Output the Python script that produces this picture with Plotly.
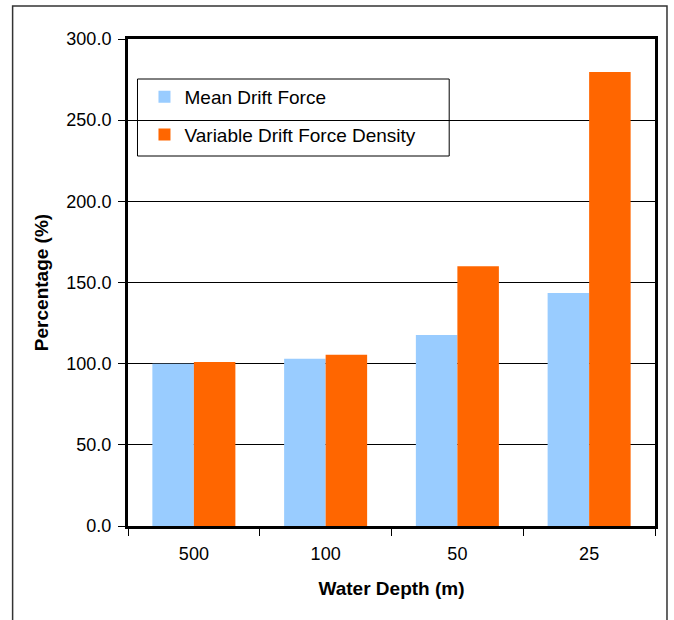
import plotly.graph_objects as go

categories = ["500", "100", "50", "25"]
mean_drift = [100.0, 103.0, 117.7, 143.6]
variable_drift = [101.0, 105.5, 160.0, 279.7]
y_ticks = [0, 50, 100, 150, 200, 250, 300]

W, H = 674, 620
L, R, T, B = 127.5, 19, 39, 94
pw, ph = W - L - R, H - T - B

def px_x(x):
    return (x - L) / pw

def px_y(y):
    return 1 - (y - T) / ph

fig = go.Figure()
fig.add_trace(go.Bar(x=categories, y=mean_drift, name="Mean Drift Force",
                     marker=dict(color="#99CCFF", line=dict(width=0)), legendgroup="a"))
fig.add_trace(go.Bar(x=categories, y=variable_drift, name="Variable Drift Force Density",
                     marker=dict(color="#FF6600", line=dict(width=0)), legendgroup="b"))

font = "Liberation Sans, Arial, sans-serif"
fig.update_layout(
    width=W, height=H,
    margin=dict(l=L, r=R, t=T, b=B, pad=0),
    paper_bgcolor="white", plot_bgcolor="white",
    barmode="group", bargap=0.37, bargroupgap=0,
    font=dict(family=font, size=18, color="black"),
    showlegend=True,
    legend=dict(x=px_x(144), y=px_y(78), xanchor="left", yanchor="top",
                bgcolor="rgba(0,0,0,0)", borderwidth=0,
                font=dict(size=19), tracegroupgap=10, itemwidth=30,
                traceorder="grouped"),
    xaxis=dict(showline=True, linecolor="black", linewidth=3, mirror=True,
               ticks="outside", ticklen=7, tickcolor="black", tickwidth=1,
               tickson="boundaries", showgrid=False, ticklabelstandoff=9,
               title=dict(text="<b>Water Depth (m)</b>", standoff=20, font=dict(size=19))),
    yaxis=dict(range=[0, 300], tickvals=y_ticks, tickformat=".1f",
               showline=True, linecolor="black", linewidth=3, mirror=True,
               ticks="outside", ticklen=7, tickcolor="black", tickwidth=1,
               ticklabelstandoff=3,
               showgrid=True, gridcolor="black", gridwidth=1, zeroline=False,
               title=dict(text="<b>Percentage (%)</b>", standoff=13, font=dict(size=19))),
    shapes=[
        dict(type="rect", xref="paper", yref="paper",
             x0=px_x(137), x1=px_x(449), y0=px_y(156), y1=px_y(79),
             line=dict(color="black", width=1), fillcolor="white", layer="below"),
        dict(type="rect", xref="paper", yref="paper",
             x0=px_x(12), x1=px_x(667), y0=px_y(640), y1=px_y(6),
             line=dict(color="#333333", width=1.5), fillcolor="rgba(0,0,0,0)"),
    ],
)

fig.write_html("out.html")
